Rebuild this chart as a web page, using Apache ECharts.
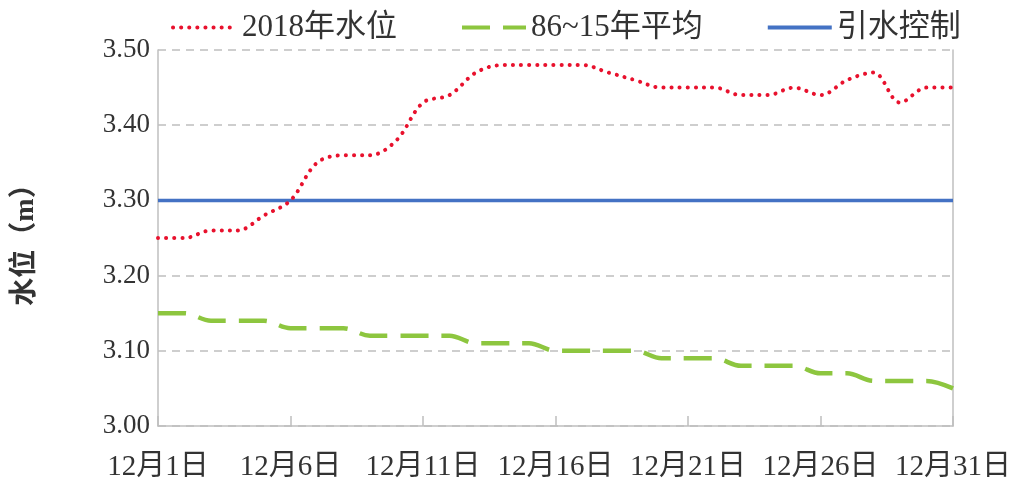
<!DOCTYPE html>
<html>
<head>
<meta charset="utf-8">
<script src="https://cdn.jsdelivr.net/npm/echarts@6/dist/echarts.min.js"></script>
<style>html,body{margin:0;padding:0;background:#fff}#c{width:1014px;height:482px}</style>
</head>
<body>
<div id="c"></div>
<script>
var days = ['12月1日','12月2日','12月3日','12月4日','12月5日','12月6日','12月7日','12月8日','12月9日','12月10日',
  '12月11日','12月12日','12月13日','12月14日','12月15日','12月16日','12月17日','12月18日','12月19日','12月20日',
  '12月21日','12月22日','12月23日','12月24日','12月25日','12月26日','12月27日','12月28日','12月29日','12月30日','12月31日'];
var level2018 = [3.25,3.25,3.26,3.26,3.28,3.30,3.35,3.36,3.36,3.38,
  3.43,3.44,3.47,3.48,3.48,3.48,3.48,3.47,3.46,3.45,
  3.45,3.45,3.44,3.44,3.45,3.44,3.46,3.47,3.43,3.45,3.45];
var avg8615 = [3.15,3.15,3.14,3.14,3.14,3.13,3.13,3.13,3.12,3.12,
  3.12,3.12,3.11,3.11,3.11,3.10,3.10,3.10,3.10,3.09,
  3.09,3.09,3.08,3.08,3.08,3.07,3.07,3.06,3.06,3.06,3.05];
var controlLevel = 3.30;
var controlData = days.map(function(){ return controlLevel; });
var seriesNames = ['2018年水位','86~15年平均','引水控制'];
var yMin = 3.0, yMax = 3.5, yStep = 0.1;

var FONT = "'Liberation Serif', 'Noto Sans CJK SC', serif";
var chart = echarts.init(document.getElementById('c'));
chart.setOption({
  backgroundColor: '#fff',
  animation: false,
  grid: {left: 158, right: 59, top: 50, bottom: 54},
  legend: {
    left: 166, top: 7,
    itemWidth: 64, itemHeight: 14, itemGap: 63,
    itemStyle: {opacity: 0},
    lineStyle: {width: 4},
    textStyle: {fontFamily: FONT, fontSize: 31, color: '#333333'},
    data: seriesNames
  },
  xAxis: {
    type: 'category', data: days, boundaryGap: false,
    axisLine: {lineStyle: {color: '#BFBFBF', width: 1.5}},
    axisTick: {show: true, inside: true, length: 10, interval: 4, lineStyle: {color: '#BFBFBF', width: 1.5}},
    axisLabel: {interval: 4, fontFamily: FONT, fontSize: 29, color: '#333333', margin: 27},
    splitLine: {show: false}
  },
  yAxis: [{
    type: 'value', min: yMin, max: yMax, interval: yStep,
    name: '水位（m）', nameLocation: 'middle', nameGap: 118, nameRotate: 90,
    nameTextStyle: {fontFamily: FONT, fontSize: 28, color: '#333333', fontWeight: 'bold'},
    axisLine: {show: true, lineStyle: {color: '#BFBFBF', width: 1.5}},
    axisTick: {show: false},
    axisLabel: {fontFamily: FONT, fontSize: 27, color: '#333333', margin: 8,
      formatter: function(v){ return v.toFixed(2); }},
    splitLine: {show: true, lineStyle: {color: '#BFBFBF', width: 1.5, type: [8, 6]}}
  }, {
    type: 'value', min: yMin, max: yMax, interval: yStep, position: 'right',
    axisLine: {show: true, lineStyle: {color: '#BFBFBF', width: 1.5}},
    axisTick: {show: false}, axisLabel: {show: false}, splitLine: {show: false}
  }],
  series: [{
    name: seriesNames[0], type: 'line', data: level2018, symbol: 'none', smooth: 0.35,
    lineStyle: {color: '#E8112D', width: 4, type: [0.1, 8], cap: 'round'},
    itemStyle: {color: '#E8112D'}, z: 4
  }, {
    name: seriesNames[1], type: 'line', data: avg8615, symbol: 'none', smooth: 0.35,
    lineStyle: {color: '#8DC63F', width: 4.5, type: [28, 13]},
    itemStyle: {color: '#8DC63F'}, z: 3
  }, {
    name: seriesNames[2], type: 'line', data: controlData, symbol: 'none',
    lineStyle: {color: '#4472C4', width: 3.5},
    itemStyle: {color: '#4472C4'}, z: 2
  }]
});
</script>
</body>
</html>
